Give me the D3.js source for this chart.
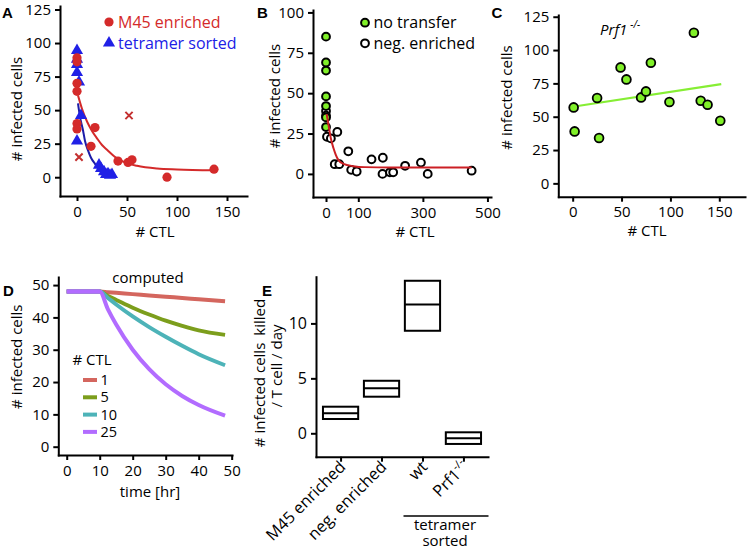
<!DOCTYPE html>
<html><head><meta charset="utf-8">
<script src="https://cdn.jsdelivr.net/npm/d3@7"></script>
<style>
body{margin:0;background:#fff}
svg{display:block}
text{font-family:"Open Sans",sans-serif;fill:#000}
.axis path,.axis line{stroke:#000;stroke-width:2;}
.axis path{stroke-linecap:square}
.axis text{font-size:15px;font-family:"Open Sans",sans-serif;fill:#000}
.lbl{font-family:"Liberation Sans",Arial,sans-serif;font-weight:bold;font-size:15px}
.ttl{font-size:15px}
</style></head><body>
<svg id="chart" width="747" height="550"></svg>
<script>
// ---------- Panel A ----------
const m45X = [0,0,0,0,0,0,18,14,41,51,55,90,137];
const m45Y = [89,86,70,64,40,36,37,23,12,11,13,0,6];
const m45OutX = [2,52];
const m45OutY = [15,46];
const tetX = [0,0,0,0,2,4,0,22,24,27,29,31,33,35];
const tetY = [94.5,88,84,78,71,46,27,9,6.5,4,2,2.5,1.5,2];
const fitA_m45X = [1,5,10,15,20,25,30,40,50,60,80,100,137];
const fitA_m45Y = [61,51,41.5,34.5,29,24,20.5,14,10.5,8.5,6.5,5.8,5.2];
const fitA_tetX = [1,3,6,8,11,14,18,24,33];
const fitA_tetY = [55,45,35,27,20,14.5,10,4.5,1.5];
const ticksA_x = [0,50,100,150];
const ticksA_y = [0,25,50,75,100,125];
// ---------- Panel B ----------
const noTransferX = [0,0,0,0,0,0,0];
const noTransferY = [85,69,64,48,42,35,29];
const negEnrX = [0,0,3,15,35,27,41,69,78,95,141,176,175,198,208,245,294,315,451];
const negEnrY = [39,36,23,22,26,6,6,14,2.5,1.5,9,10,0,1,1,5,7,0,2];
const fitB_X = [2,8,15,23,30,38,54,85,120,200,451];
const fitB_Y = [37,30,22,16,12,8.7,6.2,4.8,4.2,4,4];
const ticksB_x = [0,100,300,500];
const ticksB_y = [0,25,50,75,100];
// ---------- Panel C ----------
const prfX = [1,2,25,27,49,55,70,75,80,99,124,131,138,151];
const prfY = [57,39,64,34,87,78,64.5,69,90.5,61,113,62,59,47];
const fitC_X = [0,152];
const fitC_Y = [57.5,74.5];
const ticksC_x = [0,50,100,150];
const ticksC_y = [0,25,50,75,100,125];
// ---------- Panel D ----------
const timeD = [0,10,12.5,15,20,25,30,35,40,48];
const ctlLevels = ["1","5","10","25"];
const ctl1 = [48,48,47.8,47.6,47.2,46.8,46.4,46,45.6,45];
const ctl5 = [48,48,46.6,45.4,43,40.9,39,37.4,36,34.6];
const ctl10 = [48,48,46,44,40.3,37,34,31.2,28.6,25.2];
const ctl25 = [48,48,42.5,37.8,30,24,19.3,15.7,12.9,9.6];
const ticksD_x = [0,10,20,30,40,50];
const ticksD_y = [0,10,20,30,40,50];
// ---------- Panel E ----------
const catsE = ["M45 enriched","neg. enriched","wt","Prf1-/-"];
const lowE = [1.3,3.33,9.33,-0.97];
const midE = [1.82,4.09,11.73,-0.45];
const highE = [2.42,4.78,13.88,0.09];
const ticksE_y = [0,5,10];

const svg = d3.select("#chart");
const RED = "#d42a2a", BLUE = "#2020e6", NAVY = "#1c1ca8", GREEN = "#80f028";
const dColors = ["#d4665e","#7c9e1c","#4db3b8","#b26cff"];

function axes(x, y, xt, yt, xPad){
  const g = svg.append("g");
  g.append("g").attr("class","axis").attr("transform",`translate(0,${y.range()[0]})`)
    .call(d3.axisBottom(x).tickValues(xt).tickSize(5).tickSizeOuter(0).tickPadding(xPad));
  g.append("g").attr("class","axis").attr("transform",`translate(${x.range()[0]},0)`)
    .call(d3.axisLeft(y).tickValues(yt).tickSize(5).tickSizeOuter(0).tickPadding(4));
  return g;
}
function panelLabel(t, x, y){ svg.append("text").attr("class","lbl").attr("x",x).attr("y",y).text(t); }
function yTitle(t, x, y){ svg.append("text").attr("class","ttl").attr("text-anchor","middle")
  .attr("transform",`translate(${x},${y}) rotate(-90)`).text(t); }
function xTitle(t, x, y){ svg.append("text").attr("class","ttl").attr("text-anchor","middle").attr("x",x).attr("y",y).text(t); }

// ===== Panel A =====
{
  const x = d3.scaleLinear().domain([-17,170]).range([60,247]);
  const y = d3.scaleLinear().domain([-14,127.6]).range([196,6]);
  axes(x,y,ticksA_x,ticksA_y,5.3);
  const line = d3.line().curve(d3.curveMonotoneX);
  svg.append("path").attr("d", line(fitA_m45X.map((v,i)=>[x(v),y(fitA_m45Y[i])])))
    .attr("fill","none").attr("stroke",RED).attr("stroke-width",2);
  svg.append("path").attr("d", line(fitA_tetX.map((v,i)=>[x(v),y(fitA_tetY[i])])))
    .attr("fill","none").attr("stroke",NAVY).attr("stroke-width",2);
  svg.append("g").selectAll("path").data(tetX).join("path")
    .attr("d", d3.symbol(d3.symbolTriangle, 64)())
    .attr("transform",(d,i)=>`translate(${x(d)},${y(tetY[i])})`).attr("fill",BLUE);
  svg.append("g").selectAll("circle").data(m45X).join("circle")
    .attr("cx",d=>x(d)).attr("cy",(d,i)=>y(m45Y[i])).attr("r",4.6).attr("fill",RED);
  svg.append("g").selectAll("path").data(m45OutX).join("path")
    .attr("d", d3.symbol(d3.symbolX, 36)())
    .attr("transform",(d,i)=>`translate(${x(d)},${y(m45OutY[i])})`)
    .attr("stroke","#c43030").attr("stroke-width",2).attr("fill","none");
  // legend
  svg.append("circle").attr("cx",109).attr("cy",22).attr("r",4.6).attr("fill",RED);
  svg.append("text").attr("x",118).attr("y",27.5).attr("font-size",16).style("fill",RED).text("M45 enriched");
  svg.append("path").attr("d",d3.symbol(d3.symbolTriangle,64)()).attr("transform","translate(109,43)").attr("fill",BLUE);
  svg.append("text").attr("x",118).attr("y",48.5).attr("font-size",16).style("fill",BLUE).text("tetramer sorted");
  panelLabel("A",2,18.3);
  yTitle("# infected cells",21.5,109);
  xTitle("# CTL",155,237);
}

// ===== Panel B =====
{
  const x = d3.scaleLinear().domain([-40.3,511]).range([313,491]);
  const y = d3.scaleLinear().domain([-14.3,101.5]).range([197,10]);
  axes(x,y,ticksB_x,ticksB_y,5.3);
  const line = d3.line().curve(d3.curveMonotoneX);
  svg.append("g").selectAll("circle").data(negEnrX).join("circle")
    .attr("cx",d=>x(d)).attr("cy",(d,i)=>y(negEnrY[i])).attr("r",3.9)
    .attr("fill","#fff").attr("stroke","#000").attr("stroke-width",2);
  svg.append("g").selectAll("circle").data(noTransferX).join("circle")
    .attr("cx",d=>x(d)).attr("cy",(d,i)=>y(noTransferY[i])).attr("r",3.9)
    .attr("fill",GREEN).attr("stroke","#000").attr("stroke-width",2);
  svg.append("path").attr("d", line(fitB_X.map((v,i)=>[x(v),y(fitB_Y[i])])))
    .attr("fill","none").attr("stroke","#cc1f24").attr("stroke-width",2);
  svg.append("circle").attr("cx",365).attr("cy",22.7).attr("r",3.9).attr("fill",GREEN).attr("stroke","#000").attr("stroke-width",2);
  svg.append("text").attr("x",373.5).attr("y",28).attr("font-size",16).text("no transfer");
  svg.append("circle").attr("cx",365).attr("cy",43.3).attr("r",3.9).attr("fill","#fff").attr("stroke","#000").attr("stroke-width",2);
  svg.append("text").attr("x",373.5).attr("y",48.5).attr("font-size",16).text("neg. enriched");
  panelLabel("B",257,18.3);
  yTitle("# infected cells",280,96);
  xTitle("# CTL",415,237);
}

// ===== Panel C =====
{
  const x = d3.scaleLinear().domain([-14.7,176.3]).range([558.3,745]);
  const y = d3.scaleLinear().domain([-10,126.3]).range([196.7,15]);
  axes(x,y,ticksC_x,ticksC_y,5);
  const line = d3.line();
  svg.append("path").attr("d", line(fitC_X.map((v,i)=>[x(v),y(fitC_Y[i])])))
    .attr("fill","none").attr("stroke","#86ee34").attr("stroke-width",2.2);
  svg.append("g").selectAll("circle").data(prfX).join("circle")
    .attr("cx",d=>x(d)).attr("cy",(d,i)=>y(prfY[i])).attr("r",4.4)
    .attr("fill",GREEN).attr("stroke","#000").attr("stroke-width",1.8);
  const t = svg.append("text").attr("x",600).attr("y",35).attr("font-size",15).attr("font-style","italic");
  t.append("tspan").text("Prf1");
  t.append("tspan").attr("dx",3).attr("dy",-7).attr("font-size",10).text("-/-");
  panelLabel("C",491.5,18.3);
  yTitle("# infected cells",511.5,97.5);
  xTitle("# CTL",647,236);
}

// ===== Panel D =====
{
  const x = d3.scaleLinear().domain([-2.55,50.1]).range([58.3,232]);
  const y = d3.scaleLinear().domain([-2.57,52.5]).range([455,277]);
  axes(x,y,ticksD_x,ticksD_y,5.8);
  const series = [ctl1,ctl5,ctl10,ctl25];
  const line = d3.line().curve(d3.curveMonotoneX);
  series.forEach((s,k)=>{
    svg.append("path").attr("d", line(timeD.map((t,i)=>[x(t),y(s[i])])))
      .attr("fill","none").attr("stroke",dColors[k]).attr("stroke-width",4);
  });
  svg.append("path").attr("d", line(timeD.slice(0,2).map((t,i)=>[x(t),y(ctl25[i])])))
    .attr("fill","none").attr("stroke",dColors[3]).attr("stroke-width",4);
  svg.append("text").attr("x",148).attr("y",283).attr("text-anchor","middle").attr("font-size",15).text("computed");
  svg.append("text").attr("x",72.5).attr("y",365).attr("font-size",15).text("# CTL");
  const ly = [380,397.3,414.6,431.9];
  ctlLevels.forEach((c,k)=>{
    svg.append("line").attr("x1",83).attr("x2",97).attr("y1",ly[k]).attr("y2",ly[k])
      .attr("stroke",dColors[k]).attr("stroke-width",4);
    svg.append("text").attr("x",100.5).attr("y",ly[k]+5).attr("font-size",14.5).text(c);
  });
  panelLabel("D",3,296);
  yTitle("# infected cells",21.5,356.7);
  xTitle("time [hr]",150,497);
}

// ===== Panel E =====
{
  const x = d3.scalePoint().domain(catsE).range([316,488]).padding(0.6);
  const y = d3.scaleLinear().domain([-2.13,14.25]).range([456.7,276.7]);
  const g = svg.append("g");
  g.append("g").attr("class","axis").attr("transform",`translate(0,${y.range()[0]})`)
    .call(d3.axisBottom(x).tickSize(5).tickSizeOuter(0).tickFormat(""));
  g.append("g").attr("class","axis").attr("transform",`translate(316,0)`)
    .call(d3.axisLeft(y).tickValues(ticksE_y).tickSize(5).tickSizeOuter(0).tickPadding(4))
    .selectAll("text").style("font-size","16px");
  const hw = x.step()*0.43;
  catsE.forEach((c,i)=>{
    svg.append("rect").attr("x",x(c)-hw).attr("width",2*hw)
      .attr("y",y(highE[i])).attr("height",y(lowE[i])-y(highE[i]))
      .attr("fill","none").attr("stroke","#000").attr("stroke-width",2);
    svg.append("line").attr("x1",x(c)-hw).attr("x2",x(c)+hw)
      .attr("y1",y(midE[i])).attr("y2",y(midE[i])).attr("stroke","#000").attr("stroke-width",2);
    const t = svg.append("text").attr("text-anchor","end").attr("font-size",16.3)
      .attr("transform",`translate(${x(c)+6},${468}) rotate(-45)`);
    if(c==="Prf1-/-"){
      t.append("tspan").text("Prf1");
      t.append("tspan").attr("dy",-7).attr("font-size",11).text("-/-");
    } else t.text(c);
  });
  svg.append("line").attr("x1",403.5).attr("x2",488.5).attr("y1",516).attr("y2",516).attr("stroke","#000").attr("stroke-width",1.5);
  const ts = svg.append("text").attr("text-anchor","middle").attr("font-size",15);
  ts.append("tspan").attr("x",445).attr("y",529.5).text("tetramer");
  ts.append("tspan").attr("x",445).attr("y",546).text("sorted");
  panelLabel("E",262,296);
  const t1 = svg.append("text").attr("text-anchor","middle").attr("font-size",15)
    .attr("transform","translate(265,373) rotate(-90)");
  t1.append("tspan").text("# infected cells");
  t1.append("tspan").attr("dx",7).text("killed");
  svg.append("text").attr("text-anchor","middle").attr("font-size",15)
    .attr("transform","translate(281.5,366) rotate(-90)").text("/ T cell / day");
}
</script>
</body></html>
